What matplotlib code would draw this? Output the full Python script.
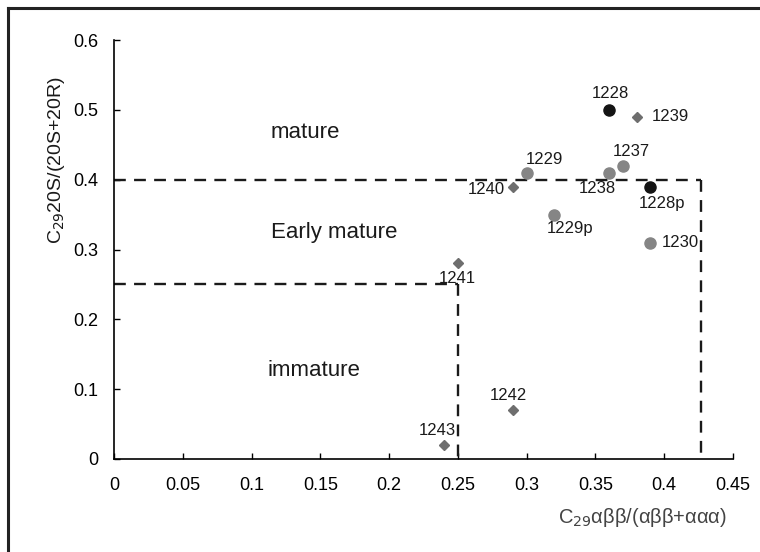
import matplotlib.pyplot as plt
from matplotlib.lines import Line2D

plt.rcParams['font.family'] = ['Liberation Sans', 'DejaVu Sans']

# sample data
names = ['1228', '1239', '1237', '1238', '1229', '1240',
         '1228p', '1229p', '1230', '1241', '1242', '1243']
x_vals = [0.36, 0.38, 0.37, 0.36, 0.30, 0.29, 0.39, 0.32, 0.39, 0.25, 0.29, 0.24]
y_vals = [0.50, 0.49, 0.42, 0.41, 0.41, 0.39, 0.39, 0.35, 0.31, 0.28, 0.07, 0.02]
kinds = ['black', 'diamond', 'grey', 'grey', 'grey', 'diamond',
         'black', 'grey', 'grey', 'diamond', 'diamond', 'diamond']

# boundaries of the maturity zones
mature_y = 0.40
mature_x = 0.427
early_y = 0.25
early_x = 0.25

x_ticks = [0, 0.05, 0.1, 0.15, 0.2, 0.25, 0.3, 0.35, 0.4, 0.45]
x_ticklabels = ['0', '0.05', '0.1', '0.15', '0.2', '0.25', '0.3', '0.35', '0.4', '0.45']
y_ticks = [0, 0.1, 0.2, 0.3, 0.4, 0.5, 0.6]
y_ticklabels = ['0', '0.1', '0.2', '0.3', '0.4', '0.5', '0.6']

# label placement (pixel offsets from the point, horizontal alignment)
label_pos = {
    '1228': (1, 16, 'center'), '1239': (15, 0, 'left'),
    '1237': (8, 14, 'center'), '1238': (-12, -16, 'center'),
    '1229': (18, 13, 'center'), '1240': (-8, -3, 'right'),
    '1228p': (12, -17, 'center'), '1229p': (16, -14, 'center'),
    '1230': (11, 0, 'left'), '1241': (-1, -15, 'center'),
    '1242': (-5, 15, 'center'), '1243': (-7, 15, 'center'),
}

styles = {
    'black': dict(marker='o', color='#141414', markersize=8),
    'grey': dict(marker='o', color='#858585', markersize=8),
    'diamond': dict(marker='D', color='#6e6e6e', markersize=5),
}

fig = plt.figure(figsize=(7.6, 5.52), dpi=100)
ax = fig.add_axes([0.15, 0.1685, 0.8145, 0.759])

for n, x, y, k in zip(names, x_vals, y_vals, kinds):
    ax.plot([x], [y], linestyle='none', zorder=3, **styles[k])
    dx, dy, ha = label_pos[n]
    ax.annotate(n, (x, y), xytext=(dx, dy), textcoords='offset pixels',
                ha=ha, va='center', fontsize=12, color='#1a1a1a')

dash = dict(color='#1a1a1a', linewidth=1.7, linestyle=(0, (5, 3.5)), zorder=2)
ax.plot([0, mature_x], [mature_y, mature_y], **dash)
ax.plot([mature_x, mature_x], [mature_y, 0], **dash)
ax.plot([0, early_x], [early_y, early_y], **dash)
ax.plot([early_x, early_x], [early_y, 0], **dash)

ax.text(0.139, 0.467, 'mature', fontsize=16, ha='center', va='center', color='#1a1a1a')
ax.text(0.160, 0.324, 'Early mature', fontsize=16, ha='center', va='center', color='#1a1a1a')
ax.text(0.145, 0.127, 'immature', fontsize=16, ha='center', va='center', color='#1a1a1a')

ax.set_xlim(0, 0.45)
ax.set_ylim(0, 0.6)
ax.set_xticks(x_ticks)
ax.set_xticklabels(x_ticklabels)
ax.set_yticks(y_ticks)
ax.set_yticklabels(y_ticklabels)
ax.tick_params(axis='x', direction='in', length=4, width=1, pad=13, labelsize=13)
ax.tick_params(axis='y', direction='in', length=4, width=1, pad=11, labelsize=13)
for side in ['top', 'right']:
    ax.spines[side].set_visible(False)
for side in ['left', 'bottom']:
    ax.spines[side].set_linewidth(1.2)

fig.text(0.845, 0.063, r'C$_{29}$αββ/(αββ+ααα)',
         ha='center', va='center', fontsize=14.5, color='#444444')
fig.text(0.074, 0.71, r'C$_{29}$20S/(20S+20R)', rotation=90,
         ha='center', va='center', fontsize=14, color='#1a1a1a')

# outer frame (only top and left edges visible in the picture)
fig.add_artist(Line2D([0.0105, 1.0], [0.986, 0.986], transform=fig.transFigure,
                      color='#222222', linewidth=2.2))
fig.add_artist(Line2D([0.0105, 0.0105], [0.0, 0.986], transform=fig.transFigure,
                      color='#222222', linewidth=2.2))

fig.savefig('out.png', dpi=100)
